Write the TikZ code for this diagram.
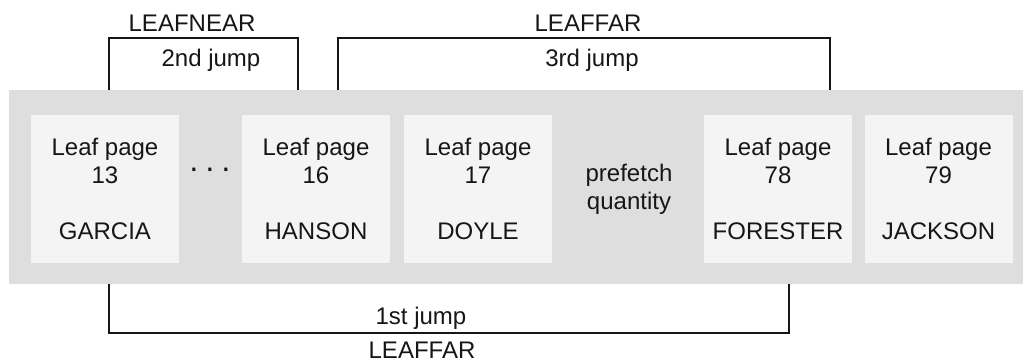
\documentclass[tikz,border=0pt]{standalone}
\usepackage{fontspec}
\setmainfont{Liberation Sans}
\definecolor{bandgray}{HTML}{DEDEDE}
\definecolor{boxgray}{HTML}{F4F4F4}
\definecolor{ink}{HTML}{161616}
\begin{document}
\begin{tikzpicture}[x=0.75pt,y=-0.75pt,
  leaf/.style={fill=boxgray, draw=none, minimum width=111pt, minimum height=111pt, inner sep=0pt,
    align=center, font=\fontsize{18}{21}\selectfont, text=ink},
  lbl/.style={font=\fontsize{18}{21}\selectfont, text=ink, inner sep=0pt, align=center},
  jump/.style={draw=ink, line width=1.3pt}]
\useasboundingbox (0,0) rectangle (1026,364);
\fill[bandgray] (9,90) rectangle (1023,284);
\node[leaf] (p13) at (105,189) {Leaf page\\13\\[21pt]GARCIA};
\node[leaf] (p16) at (316,189) {Leaf page\\16\\[21pt]HANSON};
\node[leaf] (p17) at (478,189) {Leaf page\\17\\[21pt]DOYLE};
\node[leaf] (p78) at (778,189) {Leaf page\\78\\[21pt]FORESTER};
\node[leaf] (p79) at (938.5,189) {Leaf page\\79\\[21pt]JACKSON};
\node[lbl, font=\fontsize{24}{24}\selectfont] (dots) at (210,173) {·\hspace{4pt}·\hspace{4pt}·};
\node[lbl] (pq) at (629,189) {prefetch\\quantity};
% brackets
\coordinate (n1) at (109,90);
\coordinate (n2) at (109,38);
\coordinate (n3) at (298,38);
\coordinate (n4) at (298,90);
\coordinate (f1) at (338,90);
\coordinate (f2) at (338,38);
\coordinate (f3) at (830,38);
\coordinate (f4) at (830,90);
\coordinate (b1) at (109,284);
\coordinate (b2) at (109,333);
\coordinate (b3) at (789,333);
\coordinate (b4) at (789,284);
\draw[jump] (n1) -- (n2) -- (n3) -- (n4);
\draw[jump] (f1) -- (f2) -- (f3) -- (f4);
\draw[jump] (b1) -- (b2) -- (b3) -- (b4);
\node[lbl] (lnear) at (192,23) {LEAFNEAR};
\node[lbl] (j2) at (211,60) {2nd jump};
\node[lbl] (lfar1) at (588,23) {LEAFFAR};
\node[lbl] (j3) at (592,60) {3rd jump};
\node[lbl] (j1) at (421,318) {1st jump};
\node[lbl] (lfar2) at (422,350) {LEAFFAR};
\end{tikzpicture}
\end{document}
